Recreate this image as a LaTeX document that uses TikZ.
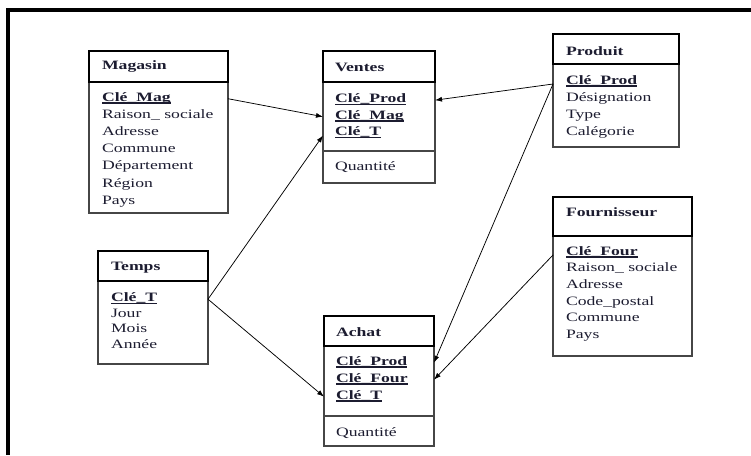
\documentclass[tikz,border=0pt]{standalone}
\usepackage{fontspec}
\setmainfont{Liberation Serif}[FakeStretch=1.38]
\usetikzlibrary{arrows.meta}
\definecolor{ink}{RGB}{28,28,48}
\definecolor{edge}{RGB}{70,70,70}
\newsavebox\clebox
% bold key field with an underline merged into the underscore
\newcommand\cle[1]{\sbox\clebox{\bfseries #1}\rlap{\rule[-2.6pt]{\wd\clebox}{1.3pt}}\usebox\clebox}

\begin{document}
\begin{tikzpicture}[x=1pt,y=-1pt,
  every node/.style={inner sep=0pt, outer sep=0pt},
  body/.style={draw=edge, line width=1.1pt, anchor=north west},
  head/.style={draw=black, line width=2pt, anchor=north west},
  txt/.style={anchor=base west, text=ink, font=\fontsize{12.8}{15}\selectfont},
  ttl/.style={anchor=base west, text=ink, font=\fontsize{12.8}{15}\selectfont\bfseries},
  divline/.style={draw=edge, line width=1.1pt},
  link/.style={draw=black, line width=0.75pt, -{Latex[length=7pt,width=5pt]}},
]
\useasboundingbox (0,0) rectangle (751,455);

% page frame
\draw[line width=4pt] (751,10) -- (8,10) -- (8,455);

% ---------- Magasin ----------
\node[body, minimum width=139pt, minimum height=131pt] (magB) at (89,82) {};
\node[head, minimum width=139pt, minimum height=31pt] (magH) at (89,51) {};
\node[ttl] (magT) at (102,69) {Magasin};
\node[txt] (mag1) at (102,101) {\cle{Clé\_Mag}};
\node[txt] (mag2) at (102,118.2) {Raison\_ sociale};
\node[txt] (mag3) at (102,135.4) {Adresse};
\node[txt] (mag4) at (102,152.6) {Commune};
\node[txt] (mag5) at (102,169.8) {Département};
\node[txt] (mag6) at (102,187) {Région};
\node[txt] (mag7) at (102,204.2) {Pays};

% ---------- Ventes ----------
\node[body, minimum width=112pt, minimum height=101pt] (venB) at (323,82) {};
\node[head, minimum width=112pt, minimum height=31pt] (venH) at (323,51) {};
\draw[divline] (323,151) -- (435,151);
\node[ttl] (venT) at (335,71) {Ventes};
\node[txt] (ven1) at (335,102.5) {\cle{Clé\_Prod}};
\node[txt] (ven2) at (335,119) {\cle{Clé\_Mag}};
\node[txt] (ven3) at (335,135.5) {\cle{Clé\_T}};
\node[txt] (ven4) at (335,170.7) {Quantité};

% ---------- Produit ----------
\node[body, minimum width=126pt, minimum height=83pt] (proB) at (553,64) {};
\node[head, minimum width=126pt, minimum height=30pt] (proH) at (553,34) {};
\node[ttl] (proT) at (566,55) {Produit};
\node[txt] (pro1) at (566,84) {\cle{Clé\_Prod}};
\node[txt] (pro2) at (566,101) {Désignation};
\node[txt] (pro3) at (566,118) {Type};
\node[txt] (pro4) at (566,135) {Calégorie};

% ---------- Fournisseur ----------
\node[body, minimum width=139pt, minimum height=120pt] (fouB) at (553,236) {};
\node[head, minimum width=139pt, minimum height=39pt] (fouH) at (553,197) {};
\node[ttl] (fouT) at (566,216.5) {Fournisseur};
\node[txt] (fou1) at (566,255) {\cle{Clé\_Four}};
\node[txt] (fou2) at (566,271.7) {Raison\_ sociale};
\node[txt] (fou3) at (566,288.4) {Adresse};
\node[txt] (fou4) at (566,305.1) {Code\_postal};
\node[txt] (fou5) at (566,321.8) {Commune};
\node[txt] (fou6) at (566,338.5) {Pays};

% ---------- Temps ----------
\node[body, minimum width=110pt, minimum height=83pt] (temB) at (98,281) {};
\node[head, minimum width=110pt, minimum height=30pt] (temH) at (98,251) {};
\node[ttl] (temT) at (111,270.5) {Temps};
\node[txt] (tem1) at (111,301.5) {\cle{Clé\_T}};
\node[txt] (tem2) at (111,317) {Jour};
\node[txt] (tem3) at (111,332.5) {Mois};
\node[txt] (tem4) at (111,348) {Année};

% ---------- Achat ----------
\node[body, minimum width=110pt, minimum height=100pt] (achB) at (324,346) {};
\node[head, minimum width=110pt, minimum height=30pt] (achH) at (324,316) {};
\draw[divline] (324,416) -- (434,416);
\node[ttl] (achT) at (336,336) {Achat};
\node[txt] (ach1) at (336,365) {\cle{Clé\_Prod}};
\node[txt] (ach2) at (336,382) {\cle{Clé\_Four}};
\node[txt] (ach3) at (336,399) {\cle{Clé\_T}};
\node[txt] (ach4) at (336,436.5) {Quantité};

% ---------- links ----------
\draw[link] (magB.east |- mag1.mid) -- (venB.west |- ven2.mid);
\draw[link] (temB.east |- tem1.mid) -- (venB.west |- ven3.base);
\draw[link] (temB.east |- tem1.mid) -- (achB.west |- ach3.mid);
\draw[link] (proB.west |- pro1.base) -- (venB.east |- ven1.mid);
\draw[link] (proB.west |- pro1.base) -- (achB.east |- ach1.mid);
\draw[link] (fouB.west |- fou1.base) -- (achB.east |- ach2.mid);
\end{tikzpicture}
\end{document}
